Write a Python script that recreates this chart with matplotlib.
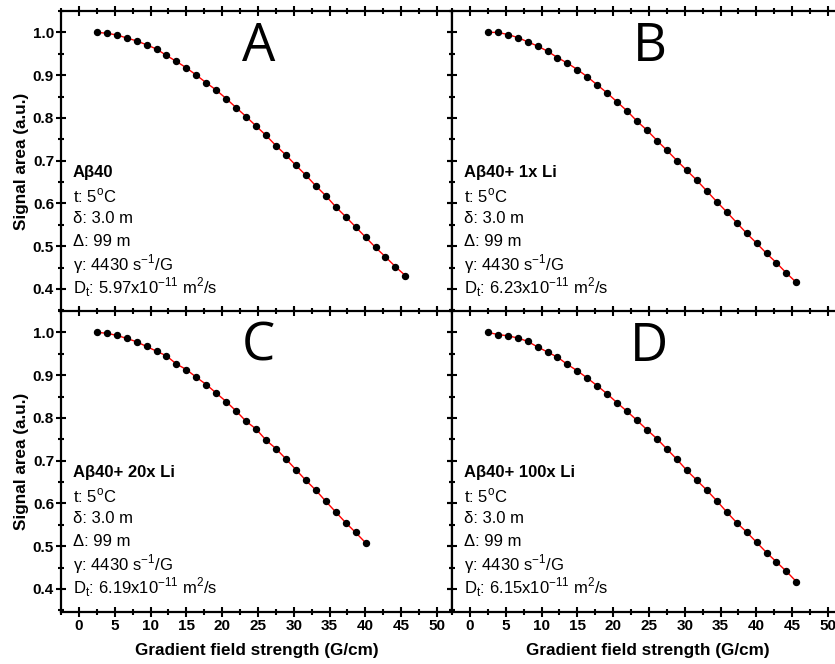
"""Signal decay vs gradient field strength for the four Abeta40 samples (out.png)."""
import matplotlib
matplotlib.use("Agg")
import matplotlib.pyplot as plt
from matplotlib.ticker import MultipleLocator

plt.rcParams["font.family"] = ["Liberation Sans", "DejaVu Sans"]
plt.rcParams["mathtext.fontset"] = "custom"
plt.rcParams["mathtext.rm"] = "Liberation Sans"

# gradient steps (G/cm), shared by all samples; C stops earlier
gradient = [2.50, 3.89, 5.28, 6.67, 8.06, 9.45, 10.84, 12.23, 13.62, 15.01,
            16.40, 17.79, 19.18, 20.57, 21.96, 23.35, 24.74, 26.13, 27.52, 28.91,
            30.30, 31.69, 33.08, 34.47, 35.86, 37.25, 38.64, 40.03, 41.42, 42.81,
            44.20, 45.59]
gradient_c = gradient[:28]

signal_a = [1.000, 0.998, 0.994, 0.987, 0.980, 0.971, 0.961, 0.946, 0.932, 0.917,
            0.900, 0.882, 0.865, 0.845, 0.824, 0.803, 0.781, 0.759, 0.735, 0.713,
            0.689, 0.666, 0.641, 0.618, 0.592, 0.569, 0.545, 0.521, 0.497, 0.475,
            0.452, 0.431]
signal_b = [1.000, 1.000, 0.995, 0.988, 0.978, 0.968, 0.956, 0.941, 0.928, 0.913,
            0.896, 0.877, 0.858, 0.837, 0.816, 0.792, 0.771, 0.747, 0.724, 0.700,
            0.677, 0.654, 0.629, 0.604, 0.580, 0.555, 0.530, 0.507, 0.483, 0.461,
            0.437, 0.415]
signal_c = [1.000, 0.998, 0.993, 0.986, 0.978, 0.967, 0.956, 0.945, 0.926, 0.913,
            0.895, 0.878, 0.858, 0.838, 0.816, 0.792, 0.774, 0.748, 0.728, 0.704,
            0.679, 0.654, 0.631, 0.605, 0.580, 0.555, 0.532, 0.508]
signal_d = [1.000, 0.995, 0.992, 0.987, 0.979, 0.966, 0.954, 0.942, 0.925, 0.910,
            0.893, 0.875, 0.856, 0.835, 0.815, 0.794, 0.772, 0.751, 0.727, 0.703,
            0.677, 0.654, 0.631, 0.606, 0.580, 0.555, 0.533, 0.509, 0.485, 0.463,
            0.441, 0.417]

letters = ["A", "B", "C", "D"]
samples = ["A\u03b240", "A\u03b240+ 1x Li", "A\u03b240+ 20x Li", "A\u03b240+ 100x Li"]
diffusion = ["5.97", "6.23", "6.19", "6.15"]
params = ["t: 5$^\\mathregular{o}$C", "\u03b4: 3.0 m", "\u0394: 99 m",
          "\u03b3: 4430 s$^\\mathregular{-1}$/G"]

W, H = 835, 664
LEFT, TOP, MID, BOT, PW = 61, 11, 312, 612, 391


def style(ax, show_x, show_y):
    ax.set_xlim(-2.5, 52.1)
    ax.set_ylim(0.346, 1.05)
    ax.xaxis.set_major_locator(MultipleLocator(5))
    ax.xaxis.set_minor_locator(MultipleLocator(2.5))
    ax.yaxis.set_major_locator(MultipleLocator(0.1))
    ax.yaxis.set_minor_locator(MultipleLocator(0.05))
    ax.tick_params(which="both", direction="inout", top=True, right=True,
                   width=1.5, labelsize=11, pad=1.5,
                   labelbottom=show_x, labelleft=show_y)
    ax.tick_params(which="major", length=7)
    ax.tick_params(which="minor", length=4)
    for lab in ax.get_xticklabels() + ax.get_yticklabels():
        lab.set_fontweight("bold")
    for s in ax.spines.values():
        s.set_linewidth(1.6)
    if show_x:
        ax.set_xlabel("Gradient field strength (G/cm)", fontsize=12.3,
                      fontweight="bold", labelpad=7)
    if show_y:
        ax.set_ylabel("Signal area (a.u.)", fontsize=12.3, fontweight="bold",
                      labelpad=3)


def main():
    fig = plt.figure(figsize=(W / 100, H / 100), dpi=100)
    series = [(gradient, signal_a), (gradient, signal_b),
              (gradient_c, signal_c), (gradient, signal_d)]
    for i, (x, y) in enumerate(series):
        row, col = divmod(i, 2)
        left = (LEFT + col * PW) / W
        bottom = 1 - (MID if row == 0 else BOT) / H
        ax = fig.add_axes([left, bottom, PW / W, (MID - TOP) / H])
        ax.plot(x, y, color="red", lw=1, zorder=2)
        ax.plot(x, y, "o", color="black", ms=4.3, zorder=3)
        style(ax, show_x=row == 1, show_y=col == 0)

        ax.text(0.505, 0.88, letters[i], transform=ax.transAxes, ha="center",
                va="center", fontsize=38, family=["Open Sans", "DejaVu Sans"])
        lines = [samples[i]] + params + [
            f"D$_\\mathregular{{t}}$: {diffusion[i]}x10$^\\mathregular{{-11}}$ "
            f"m$^\\mathregular{{2}}$/s"]
        for k, line in enumerate(lines):
            ax.text(0.03, 0.462 - k * 0.0758, line, transform=ax.transAxes,
                    ha="left", va="center", fontsize=12,
                    fontweight="bold" if k == 0 else "normal")

    fig.savefig("out.png", dpi=100)
    plt.close(fig)


if __name__ == "__main__":
    main()
